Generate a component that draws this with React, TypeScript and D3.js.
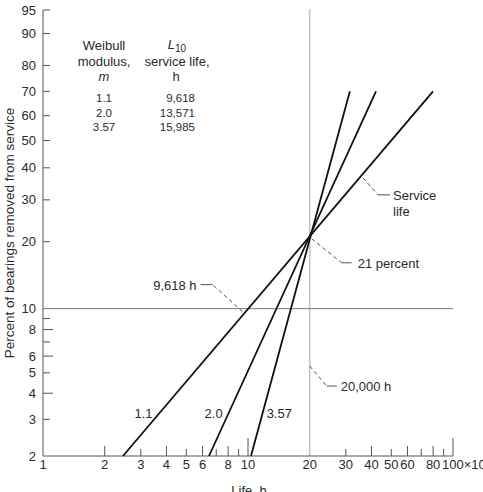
import React from "react";
import * as d3 from "d3";

// ---- data ----
const moduli = ["1.1", "2.0", "3.57"];
const l10Lives = ["9,618", "13,571", "15,985"];
// life (×10³ h) where each line meets 2 % and 70 %
const lineLow = [2.455, 6.45, 10.34];
const lineHigh = [79.9, 42.1, 31.4];
const lowPct = 2;
const highPct = 70;

const yTickLabels = [2, 3, 4, 5, 6, 8, 10, 20, 30, 40, 50, 60, 70, 80, 90, 95];
const yTickMinor = [7, 9];
const xTickLabels = [1, 2, 3, 4, 5, 6, 8, 10, 20, 30, 40, 50, 60, 80, 100];
const xTicksAll = [2, 3, 4, 5, 6, 7, 8, 9, 10, 30, 40, 50, 60, 70, 80, 90, 100];

const serviceLife = 20; // ×10³ h
const servicePct = 21;
const l10Pct = 10;
const l10First = 9.618;

const W = 483;
const H = 492;
const FONT = "'Liberation Sans', Arial, Helvetica, sans-serif";
const TXT = "#2a2a2a";

const weib = (p: number) => Math.log(-Math.log(1 - p / 100));

export default function App() {
  const x = d3.scaleLog().domain([1, 100]).range([43, 453]);
  const yw = d3.scaleLinear().domain([weib(2), weib(95)]).range([456, 10]);
  const y = (p: number) => yw(weib(p));
  const x0 = x(1);
  const y0 = y(2);

  const lineGen = d3
    .line<[number, number]>()
    .x((d) => x(d[0]))
    .y((d) => y(d[1]));

  const lines = moduli.map((m, i) => ({
    m,
    pts: [
      [lineLow[i], lowPct],
      [lineHigh[i], highPct],
    ] as [number, number][],
  }));

  const atY = (i: number, py: number) => {
    const ax = x(lineLow[i]), ay = y(lowPct), bx = x(lineHigh[i]), by = y(highPct);
    const t = (py - ay) / (by - ay);
    return [ax + t * (bx - ax), py];
  };
  const atX = (i: number, px: number) => {
    const ax = x(lineLow[i]), ay = y(lowPct), bx = x(lineHigh[i]), by = y(highPct);
    const t = (px - ax) / (bx - ax);
    return [px, ay + t * (by - ay)];
  };

  const dash = { stroke: "#555", strokeWidth: 1, strokeDasharray: "4,3", fill: "none" };
  const solid = { stroke: "#555", strokeWidth: 1, fill: "none" };

  const sx = x(serviceLife);
  const sy = y(servicePct);
  const lx = x(l10First);
  const ly = y(l10Pct);
  const svcPt = atX(0, 362);
  const labelY = 418;

  const longX = new Set([2, 4, 6, 8, 40, 60, 80]);
  const bigX = new Set([10, 100]);
  const longY = new Set([4, 6, 8]);

  return (
    <svg
      width={W}
      height={H}
      style={{ position: "absolute", left: 0, top: 0, background: "#fff" }}
      fontFamily={FONT}
    >
      {/* grid lines */}
      <line x1={sx} x2={sx} y1={9} y2={y0} stroke="#c4c4c4" strokeWidth={1.6} />
      <line x1={x0} x2={x(100)} y1={ly} y2={ly} stroke="#777" strokeWidth={1} />

      {/* axes */}
      <line x1={x0} x2={x0} y1={y(95)} y2={y0} stroke="#555" strokeWidth={1} />
      <line x1={x0} x2={x(100)} y1={y0} y2={y0} stroke="#555" strokeWidth={1} />

      {/* y ticks */}
      {yTickLabels.filter((p) => p !== 2 && p !== 10).map((p) => (
        <line key={"yt" + p} x1={x0} x2={x0 + (longY.has(p) ? 10 : 7)} y1={y(p)} y2={y(p)} stroke="#555" />
      ))}
      {yTickMinor.map((p) => (
        <line key={"ym" + p} x1={x0} x2={x0 + 7} y1={y(p)} y2={y(p)} stroke="#555" />
      ))}
      {yTickLabels.map((p) => (
        <text key={"yl" + p} x={36} y={y(p) + 4.5} textAnchor="end" fontSize={13} fill={TXT}>
          {p}
        </text>
      ))}

      {/* x ticks */}
      {xTicksAll.map((v) => (
        <line
          key={"xt" + v}
          x1={x(v)}
          x2={x(v)}
          y1={y0}
          y2={y0 - (bigX.has(v) ? 18 : longX.has(v) ? 10 : 7)}
          stroke="#555"
        />
      ))}
      {xTickLabels.map((v) =>
        v === 100 ? (
          <text key="xl100" x={x(v) - 11} y={469} fontSize={13} fill={TXT}>
            100×10<tspan dy={-5} fontSize={9}>3</tspan>
          </text>
        ) : (
          <text key={"xl" + v} x={x(v)} y={469} textAnchor="middle" fontSize={13} fill={TXT}>
            {v}
          </text>
        )
      )}

      {/* axis titles */}
      <text
        transform={`translate(14,233) rotate(-90)`}
        textAnchor="middle"
        fontSize={13.5}
        fill={TXT}
      >
        Percent of bearings removed from service
      </text>
      <text x={249} y={495} textAnchor="middle" fontSize={13} fill={TXT}>
        Life, h
      </text>

      {/* Weibull lines */}
      {lines.map((l) => (
        <path key={l.m} d={lineGen(l.pts) || ""} stroke="#111" strokeWidth={1.8} fill="none" />
      ))}

      {/* line labels */}
      {lines.map((l, i) => {
        const p = atY(i, 413);
        const offs = [-7, -6, 4];
        return (
          <text
            key={"ll" + l.m}
            x={p[0] + offs[i]}
            y={labelY}
            textAnchor={i === 2 ? "start" : "end"}
            fontSize={13}
            fill={TXT}
          >
            {l.m}
          </text>
        );
      })}

      {/* table */}
      <g fontSize={13} fill={TXT} textAnchor="middle">
        <text x={104} y={50}>Weibull</text>
        <text x={104} y={66}>modulus,</text>
        <text x={104} y={81} fontStyle="italic">m</text>
        <text x={177} y={49}>
          <tspan fontStyle="italic">L</tspan>
          <tspan dy={3} fontSize={10}>10</tspan>
        </text>
        <text x={177} y={66}>service life,</text>
        <text x={176} y={81}>h</text>
      </g>
      <g fontSize={11.5} fill={TXT}>
        {moduli.map((m, i) => (
          <text key={"tm" + m} x={104} y={102 + i * 14.5} textAnchor="middle">
            {m}
          </text>
        ))}
        {l10Lives.map((v, i) => (
          <text key={"tl" + v} x={195} y={102 + i * 14.5} textAnchor="end">
            {v}
          </text>
        ))}
      </g>

      {/* annotations */}
      <path d={`M${svcPt[0] + 1},${svcPt[1] + 3} L${svcPt[0] + 16},${svcPt[1] + 20}`} style={dash} />
      <path d={`M${svcPt[0] + 16},${svcPt[1] + 20} L${svcPt[0] + 28},${svcPt[1] + 20}`} style={solid} />
      <text x={svcPt[0] + 31} y={svcPt[1] + 25} fontSize={13} fill={TXT}>Service</text>
      <text x={svcPt[0] + 31} y={svcPt[1] + 41} fontSize={13} fill={TXT}>life</text>

      <path d={`M${sx + 2},${sy + 2} L${sx + 32},${sy + 26}`} style={dash} />
      <path d={`M${sx + 32},${sy + 26} L${sx + 42},${sy + 26}`} style={solid} />
      <text x={sx + 48} y={sy + 31} fontSize={13} fill={TXT}>21 percent</text>

      <path d={`M${sx},${366} L${sx + 17},${386}`} style={dash} />
      <path d={`M${sx + 17},${386} L${sx + 27},${386}`} style={solid} />
      <text x={sx + 31} y={391} fontSize={13} fill={TXT}>20,000 h</text>

      <path d={`M${lx - 2},${ly + 3} L${lx - 32},${ly - 24}`} style={dash} />
      <path d={`M${lx - 32},${ly - 24} L${lx - 44},${ly - 24}`} style={solid} />
      <text x={lx - 48} y={ly - 19} textAnchor="end" fontSize={13} fill={TXT}>9,618 h</text>
    </svg>
  );
}
